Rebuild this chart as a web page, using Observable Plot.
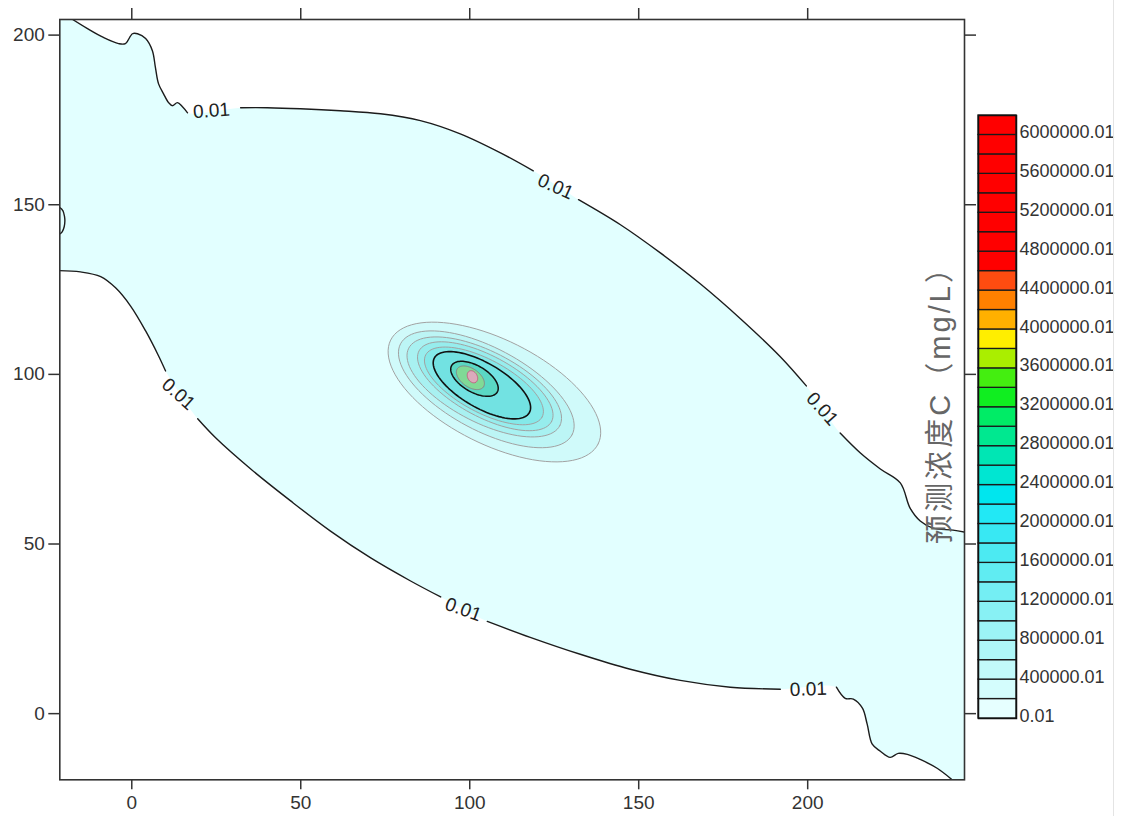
<!DOCTYPE html>
<html>
<head>
<meta charset="utf-8">
<script src="https://cdn.jsdelivr.net/npm/d3@7"></script>
<script src="https://cdn.jsdelivr.net/npm/@observablehq/plot@0.6"></script>
<style>
  html, body { margin: 0; padding: 0; background: #fff; }
  body { width: 1137px; height: 816px; position: relative; overflow: hidden; }
  #chart { position: absolute; left: 0; top: 0; }
  #legend { position: absolute; left: 923px; top: 105px; }
  #edge { position: absolute; left: 1113px; top: 0; width: 1px; height: 816px; background: #e4e4e4; }
</style>
</head>
<body>
<div id="chart"></div>
<div id="legend"></div>
<div id="edge"></div>
<script>
// ---------- data ----------
const xTicks = [0, 50, 100, 150, 200];
const yTicks = [0, 50, 100, 150, 200];
const xDomain = [-21.3, 246.4];
const yDomain = [-19.5, 204.6];

const levels = [0.01, 200000.01, 400000.01, 600000.01, 800000.01, 1000000.01, 1200000.01,
  1400000.01, 1600000.01, 1800000.01, 2000000.01, 2200000.01, 2400000.01, 2600000.01,
  2800000.01, 3000000.01, 3200000.01, 3400000.01, 3600000.01, 3800000.01, 4000000.01,
  4200000.01, 4400000.01, 4600000.01, 4800000.01, 5000000.01, 5200000.01, 5400000.01,
  5600000.01, 5800000.01, 6000000.01];
const levelColors = ["#e6ffff", "#d4fdfd", "#c2fafa", "#aef7f8", "#9cf4f6", "#88f1f4", "#74eef3",
  "#60ecf2", "#4ceaf2", "#38e8f3", "#22e8f5", "#00e6ee", "#00e6d2", "#00e6b4",
  "#00e890", "#00ec66", "#10ee20", "#44ee10", "#aaee00", "#ffee00", "#ffb000",
  "#ff8000", "#ff4c10", "#ff0000", "#ff0000", "#ff0000", "#ff0000", "#ff0000",
  "#ff0000", "#ff0000", "#ff0000"];
const levelTickLabels = [0.01, 400000.01, 800000.01, 1200000.01, 1600000.01, 2000000.01,
  2400000.01, 2800000.01, 3200000.01, 3600000.01, 4000000.01, 4400000.01, 4800000.01,
  5200000.01, 5600000.01, 6000000.01];
const legendTitle = "预测浓度C（mg/L）";

// 0.01 contour, upper branch (null = gap for a label)
const upperContour = [
  [-17.5, 204.6], [-13.1, 201.9], [-8.4, 199.3], [-3.9, 197.5], [-1.9, 197.5], [0.2, 200.4],
  [1.7, 200.4], [4.1, 199.0], [6.1, 195.4], [7.0, 190.4], [7.9, 185.7], [9.4, 182.7],
  [10.9, 180.1], [12.0, 179.2], [13.5, 180.1], [15.0, 178.9], [16.5, 177.1],
  null,
  [32.2, 178.6], [40.1, 178.6], [49.9, 178.3], [61.7, 177.7], [73.6, 176.8], [85.4, 174.8],
  [97.2, 170.9], [109.1, 165.3], [118.8, 160.0],
  null,
  [132.2, 151.5], [144.6, 144.1], [156.4, 135.8], [168.2, 126.7], [180.1, 116.4],
  [191.9, 105.2], [199.6, 96.6],
  null,
  [209.6, 82.7], [215.6, 76.8], [221.5, 72.1], [227.4, 68.0], [230.3, 60.6], [233.3, 56.8],
  [237.1, 54.7], [243.0, 54.1], [246.6, 53.5]
];
// 0.01 contour, lower branch
const lowerContour = [
  [-22.0, 130.6], [-15.2, 130.2], [-9.2, 128.8], [-4.8, 125.5], [-0.4, 120.2], [4.1, 112.8],
  [7.9, 105.5], [10.0, 101.0],
  null,
  [19.5, 86.9], [24.8, 81.3], [35.2, 72.1], [47.0, 62.7], [58.8, 53.8], [70.7, 45.9],
  [82.5, 39.1], [91.4, 34.4],
  null,
  [105.2, 27.2], [117.9, 22.5], [132.7, 17.5], [147.5, 13.1], [162.3, 9.8], [177.1, 7.8],
  [191.9, 7.2],
  null,
  [208.5, 7.8], [211.1, 4.5], [213.5, 4.3], [216.2, 1.6], [217.6, -3.1], [219.1, -9.0],
  [221.5, -11.1], [224.4, -12.9], [226.8, -11.7], [229.5, -12.0], [233.3, -13.5],
  [238.3, -16.1], [243.6, -20.2]
];
// small closed piece at the left edge
const leftBump = [
  [-21.4, 149.2], [-20.4, 148.3], [-19.9, 146.5], [-19.8, 145.2], [-20.0, 143.5],
  [-20.6, 142.0], [-21.4, 141.3]
];
const contourLabels = [
  {x: 23.6, y: 177.7, angle: -4},
  {x: 125.4, y: 155.3, angle: 24},
  {x: 204.3, y: 89.8, angle: 48},
  {x: 13.8, y: 94.2, angle: 42},
  {x: 98.1, y: 30.7, angle: 20},
  {x: 200.2, y: 7.2, angle: -2}
];
// inner contours near the source: centre, semi-axes, tilt (deg, down-right)
const innerContours = [
  {cx: 107.3, cy: 94.8, a: 34.3, b: 15.4, tilt: 26.5, fill: "#d0fafa", stroke: "#a2a2a2", w: 1},
  {cx: 104.9, cy: 95.6, a: 28.7, b: 12.2, tilt: 27.9, fill: "#bcf5f5", stroke: "#a2a2a2", w: 1},
  {cx: 104.3, cy: 96.3, a: 25.1, b: 10.5, tilt: 27.0, fill: "#a8f1f1", stroke: "#a2a2a2", w: 1},
  {cx: 104.6, cy: 96.5, a: 22.2, b: 9.0, tilt: 28.0, fill: "#96eded", stroke: "#a2a2a2", w: 1},
  {cx: 104.2, cy: 96.6, a: 19.5, b: 7.8, tilt: 28.0, fill: "#84e9e9", stroke: "#a2a2a2", w: 1},
  {cx: 103.6, cy: 96.8, a: 16.2, b: 6.6, tilt: 30.0, fill: "#72e2e2", stroke: "#111111", w: 1.6},
  {cx: 101.4, cy: 98.7, a: 7.8, b: 3.9, tilt: 30.0, fill: "#5ad8c4", stroke: "#111111", w: 1.5},
  {cx: 100.2, cy: 99.0, a: 4.7, b: 2.7, tilt: 35.0, fill: "#80da96", stroke: "#888888", w: 1},
  {cx: 100.8, cy: 99.3, a: 1.9, b: 1.4, tilt: 60.0, fill: "#dcaabb", stroke: "#c06080", w: 1}
];
const baseFill = "#e2ffff";

// ---------- build shapes ----------
const pts = arr => arr.filter(p => p !== null);
const gapped = arr => arr.map(p => p === null ? [NaN, NaN] : p);
const U = pts(upperContour), L = pts(lowerContour);
const fillPoly = [
  [xDomain[0] - 6, yDomain[1] + 6],
  ...U,
  [xDomain[1] + 6, U[U.length - 1][1]],
  [xDomain[1] + 6, yDomain[0] - 6],
  ...L.slice().reverse(),
  [xDomain[0] - 6, L[0][1]],
  [xDomain[0] - 6, yDomain[1] + 6]
];
function ellipsePoints(e) {
  const t = e.tilt * Math.PI / 180, out = [];
  for (let i = 0; i <= 96; i++) {
    const s = i / 96 * 2 * Math.PI;
    const u = e.a * Math.cos(s), v = e.b * Math.sin(s);
    out.push([e.cx + u * Math.cos(t) + v * Math.sin(t), e.cy - u * Math.sin(t) + v * Math.cos(t)]);
  }
  return out;
}
const X = d => d[0], Y = d => d[1];

const chart = Plot.plot({
  width: 1137,
  height: 816,
  marginLeft: 59.3,
  marginRight: 173,
  marginTop: 19,
  marginBottom: 36.7,
  style: {fontFamily: "'Liberation Sans', Arial, sans-serif", fontSize: "19px", color: "#333", background: "transparent"},
  x: {domain: xDomain},
  y: {domain: yDomain},
  marks: [
    Plot.line(fillPoly, {x: X, y: Y, fill: baseFill, stroke: "none", curve: "catmull-rom", clip: true}),
    ...innerContours.map(e => Plot.line(ellipsePoints(e), {
      x: X, y: Y, fill: e.fill, stroke: e.stroke, strokeWidth: e.w, curve: "linear", clip: true
    })),
    Plot.line(gapped(upperContour), {x: X, y: Y, stroke: "#1c1c1c", strokeWidth: 1.4, curve: "catmull-rom", clip: true}),
    Plot.line(gapped(lowerContour), {x: X, y: Y, stroke: "#1c1c1c", strokeWidth: 1.4, curve: "catmull-rom", clip: true}),
    Plot.line(leftBump, {x: X, y: Y, stroke: "#1c1c1c", strokeWidth: 1.4, curve: "catmull-rom", clip: true}),
    Plot.text(contourLabels, {x: "x", y: "y", text: () => "0.01", rotate: "angle", fontSize: 19, fill: "#222"}),
    Plot.frame({stroke: "#333", strokeWidth: 1.6}),
    Plot.axisX({anchor: "bottom", ticks: xTicks, tickSize: 10, tickPadding: 6, strokeWidth: 1.5, fontSize: 19, label: null}),
    Plot.axisX({anchor: "top", ticks: xTicks, tickSize: 12, tickFormat: () => "", strokeWidth: 1.5, label: null}),
    Plot.axisY({anchor: "left", ticks: yTicks, tickSize: 11, tickPadding: 4, strokeWidth: 1.5, fontSize: 19, label: null}),
    Plot.axisY({anchor: "right", ticks: yTicks, tickSize: 11, tickFormat: () => "", strokeWidth: 1.5, label: null})
  ]
});
document.getElementById("chart").append(chart);

const legend = Plot.plot({
  width: 214,
  height: 623,
  marginLeft: 55,
  marginRight: 121,
  marginTop: 10,
  marginBottom: 10,
  style: {fontFamily: "'Liberation Sans', Arial, sans-serif", fontSize: "18px", color: "#333", background: "transparent", overflow: "visible"},
  y: {type: "band", domain: levels.slice().reverse(), padding: 0, round: false},
  color: {type: "ordinal", domain: levels, range: levelColors},
  marks: [
    Plot.cell(levels, {y: d => d, fill: d => d, stroke: "#1a1a1a", strokeWidth: 1.3}),
    Plot.frame({stroke: "#111", strokeWidth: 1.5}),
    Plot.axisY({anchor: "right", ticks: levelTickLabels, tickSize: 0, tickPadding: 3, dy: 7,
      tickFormat: d => String(d), fontSize: 18, label: null}),
    Plot.text([legendTitle], {frameAnchor: "left", textAnchor: "middle", text: d => d, rotate: -90, dx: -38, dy: -18,
      fontSize: 29, fill: "#666", fontFamily: "'Liberation Sans', 'Noto Sans CJK SC', sans-serif"})
  ]
});
// stretch the colour-bar title to the length it has in the picture
d3.select(legend).selectAll("text").filter(function() { return this.textContent === legendTitle; })
  .attr("textLength", 290).attr("lengthAdjust", "spacing");
document.getElementById("legend").append(legend);
</script>
</body>
</html>
